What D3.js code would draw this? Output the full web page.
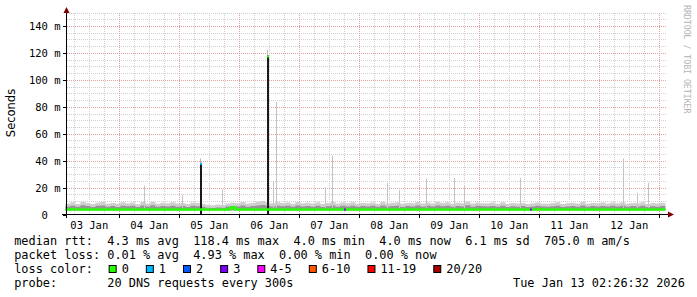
<!DOCTYPE html>
<html lang="en">
<head>
<meta charset="UTF-8">
<title>SmokePing DNS latency</title>
<style>
body { margin: 0; background: #fff; }
svg { display: block; }
text { font-family: "DejaVu Sans Mono", monospace; white-space: pre; }
</style>
</head>
<body>
<svg id="chart" width="697" height="297"></svg>
<script src="https://cdn.jsdelivr.net/npm/d3@7"></script>
<script>
// time window of the graph (10 days ending at the stamp in the footer)
const startTime = new Date(Date.UTC(2026, 0, 3, 2, 26, 32));
const endTime = new Date(Date.UTC(2026, 0, 13, 2, 26, 32));
const binHours = 2;

// smoke: upper edge of the light band, ms, one value per 2 hour bin
const smokeHi = [
    8.6, 9.4, 8.2, 9.8, 8.9, 8.1, 9.1, 9.6, 8.4, 9.0, 8.3, 9.5,
    8.8, 9.2, 8.0, 9.7, 8.6, 9.9, 8.3, 9.1, 8.7, 9.4, 8.5, 9.0,
    8.2, 9.3, 8.9, 8.4, 7.6, 7.2, 7.8, 7.4, 8.6, 9.1, 8.8, 9.6,
    8.5, 9.0, 9.8, 10.4, 9.2, 8.7, 9.5, 8.9, 9.3, 8.4, 9.7, 8.8,
    9.1, 8.6, 9.4, 8.2, 8.9, 9.6, 8.5, 9.2, 8.7, 9.5, 8.3, 9.0,
    8.8, 9.3, 8.4, 9.7, 8.6, 9.1, 9.5, 8.3, 9.0, 8.7, 9.6, 8.5,
    9.2, 8.6, 9.8, 8.9, 9.4, 8.3, 9.1, 8.7, 9.9, 8.5, 9.3, 8.8,
    8.7, 9.2, 8.4, 9.5, 8.1, 8.9, 8.5, 9.0, 8.2, 8.8, 9.3, 8.6,
    8.4, 8.9, 9.4, 8.2, 8.8, 9.1, 8.5, 9.6, 8.3, 9.0, 8.7, 9.2,
    8.6, 9.3, 8.8, 9.5, 8.4, 9.0, 8.7, 9.4, 8.2, 8.9, 8.5, 9.1
];
// smoke: upper edge of the darker band, ms
const smokeMid = [
    6.4, 6.9, 6.1, 7.2, 6.6, 5.9, 6.8, 7.0, 6.2, 6.7, 6.0, 6.9,
    6.5, 6.8, 5.9, 7.1, 6.3, 7.3, 6.1, 6.7, 6.4, 6.9, 6.2, 6.6,
    6.0, 6.8, 6.5, 6.1, 5.4, 5.2, 5.6, 5.3, 6.3, 6.7, 6.4, 7.0,
    6.2, 6.6, 7.1, 7.4, 6.8, 6.3, 6.9, 6.5, 6.8, 6.1, 7.0, 6.4,
    6.7, 6.2, 6.9, 6.0, 6.5, 7.0, 6.2, 6.8, 6.3, 6.9, 6.1, 6.6,
    6.4, 6.8, 6.1, 7.0, 6.3, 6.7, 6.9, 6.0, 6.6, 6.3, 7.0, 6.2,
    6.8, 6.3, 7.1, 6.5, 6.9, 6.1, 6.7, 6.4, 7.2, 6.2, 6.8, 6.5,
    6.3, 6.7, 6.1, 6.9, 5.9, 6.5, 6.2, 6.6, 6.0, 6.4, 6.8, 6.3,
    6.1, 6.5, 6.9, 6.0, 6.4, 6.7, 6.2, 7.0, 6.1, 6.6, 6.3, 6.7,
    6.3, 6.8, 6.4, 6.9, 6.1, 6.6, 6.3, 6.8, 6.0, 6.5, 6.2, 6.7
];
// median rtt, ms
const median = [
    4.1, 4.1, 4.0, 4.1, 4.1, 4.0, 4.1, 4.1, 4.0, 4.1, 4.1, 4.0,
    4.1, 4.1, 4.0, 4.1, 4.1, 4.1, 4.0, 4.1, 4.1, 4.0, 4.1, 4.1,
    4.1, 4.0, 4.1, 4.1, 4.0, 4.0, 4.0, 4.0, 4.1, 5.6, 4.1, 4.1,
    4.1, 4.1, 4.0, 4.1, 4.1, 4.1, 4.0, 4.1, 4.1, 4.0, 4.1, 4.1,
    4.1, 4.0, 4.1, 4.1, 4.1, 4.0, 4.1, 4.1, 4.1, 4.0, 4.1, 4.1,
    4.1, 4.1, 4.0, 4.1, 4.1, 4.0, 4.1, 4.1, 4.1, 4.1, 4.0, 4.1,
    4.1, 4.0, 4.1, 4.1, 4.1, 4.0, 4.1, 4.1, 4.1, 4.1, 4.0, 4.1,
    4.1, 4.1, 4.0, 4.1, 4.1, 4.1, 4.0, 4.1, 4.1, 4.0, 4.1, 4.1,
    4.1, 4.0, 4.1, 4.1, 4.1, 4.1, 4.0, 4.1, 4.1, 4.1, 4.0, 4.1,
    4.1, 4.1, 4.0, 4.1, 4.1, 4.0, 4.1, 4.1, 4.1, 4.0, 4.1, 4.1
];

// single slow pings sticking out of the smoke
const spikeTimes = ["2026-01-04T10:10:00Z", "2026-01-05T01:20:00Z", "2026-01-05T17:05:00Z",
    "2026-01-06T13:50:00Z", "2026-01-06T14:55:00Z", "2026-01-07T10:25:00Z", "2026-01-07T13:15:00Z",
    "2026-01-08T11:15:00Z", "2026-01-08T16:00:00Z", "2026-01-09T02:50:00Z", "2026-01-09T14:10:00Z",
    "2026-01-09T18:00:00Z", "2026-01-10T16:40:00Z", "2026-01-12T09:35:00Z", "2026-01-12T15:05:00Z",
    "2026-01-12T19:35:00Z"];
const spikeValues = [22, 15, 19, 25, 84, 20.5, 44, 24, 18.5, 27, 27.5, 22, 27.5, 42, 16.5, 24];

// the two slow periods where the median itself jumped
const burstTimes = ["2026-01-05T08:38:00Z", "2026-01-06T11:12:00Z"];
const burstMedian = [38.7, 118.4];
const burstPeak = [42, 122.5];
const burstLoss = [1, 0];

// small loss marks on the median line
const lossTimes = ["2026-01-07T18:00:00Z", "2026-01-10T20:30:00Z"];
const lossLevel = [3, 3];

const yTicks = [0, 20, 40, 60, 80, 100, 120, 140];
const yTickLabels = ["0", "20 m", "40 m", "60 m", "80 m", "100 m", "120 m", "140 m"];
const dayLabels = ["03 Jan", "04 Jan", "05 Jan", "06 Jan", "07 Jan", "08 Jan", "09 Jan", "10 Jan", "11 Jan", "12 Jan"];

const lossLabels = ["0", "1", "2", "3", "4-5", "6-10", "11-19", "20/20"];
const lossColors = ["#26ff00", "#00b8ff", "#0059ff", "#7e00ff", "#ff00ff", "#ff5500", "#ff0000", "#a10000"];

const statLines = [
    "median rtt:  4.3 ms avg  118.4 ms max  4.0 ms min  4.0 ms now  6.1 ms sd  705.0 m am/s",
    "packet loss: 0.01 % avg  4.93 % max  0.00 % min  0.00 % now"
];
const probeText = "probe:       20 DNS requests every 300s";
const stampText = "Tue Jan 13 02:26:32 2026";

// ---- layout ----
const svg = d3.select("#chart");
svg.append("rect").attr("width", 697).attr("height", 297).attr("fill", "#fff");

const x = d3.scaleUtc().domain([startTime, endTime]).range([65.4, 665.4]);
const y = d3.scaleLinear().domain([0, 150]).range([215, 13]);
const px = v => Math.floor(v) + 0.5;

const plotTop = 13, plotBottom = 214.5, plotLeft = 66.5, plotRight = 665.5;

// grid
const grid = svg.append("g").attr("stroke-width", 1).attr("stroke-dasharray", "1,1").attr("shape-rendering", "crispEdges");
d3.range(5, 151, 5).filter(v => v % 20 !== 0).forEach(v => {
    grid.append("line").attr("x1", plotLeft).attr("x2", plotRight)
        .attr("y1", px(y(v))).attr("y2", px(y(v))).attr("stroke", "#d0d0d0");
});
d3.utcHour.every(6).range(startTime, endTime).filter(d => d.getUTCHours() !== 0).forEach(d => {
    grid.append("line").attr("x1", px(x(d))).attr("x2", px(x(d)))
        .attr("y1", plotTop).attr("y2", plotBottom).attr("stroke", "#d0d0d0");
});
yTicks.filter(v => v > 0).forEach(v => {
    grid.append("line").attr("x1", plotLeft).attr("x2", plotRight)
        .attr("y1", px(y(v))).attr("y2", px(y(v))).attr("stroke", "#e4a0a0");
});
d3.utcDay.range(startTime, endTime).forEach(d => {
    grid.append("line").attr("x1", px(x(d))).attr("x2", px(x(d)))
        .attr("y1", plotTop).attr("y2", plotBottom).attr("stroke", "#e4a0a0");
});

// smoke
const bins = smokeHi.map((v, i) => ({
    t: d3.utcHour.offset(startTime, i * binHours),
    hi: v, mid: smokeMid[i], med: median[i]
}));
bins.push({ t: endTime, hi: bins[bins.length - 1].hi, mid: bins[bins.length - 1].mid, med: bins[bins.length - 1].med });

const smoke = svg.append("g");
smoke.append("path").datum(bins)
    .attr("fill", "#cfcfcf")
    .attr("d", d3.area().curve(d3.curveStepAfter).x(d => x(d.t)).y0(y(3.2)).y1(d => y(d.hi)));
smoke.append("path").datum(bins)
    .attr("fill", "#959595")
    .attr("d", d3.area().curve(d3.curveStepAfter).x(d => x(d.t)).y0(y(3.6)).y1(d => y(d.mid)));

// slow single pings
spikeTimes.forEach((t, i) => {
    const xx = Math.floor(x(new Date(t)));
    smoke.append("rect").attr("x", xx).attr("width", 1)
        .attr("y", y(spikeValues[i])).attr("height", y(5) - y(spikeValues[i]))
        .attr("fill", "#c4c4c4");
});

// bursts: smoke above, dense black column, loss coloured top
burstTimes.forEach((t, i) => {
    const xx = Math.floor(x(new Date(t)));
    smoke.append("rect").attr("x", xx).attr("width", 1)
        .attr("y", y(burstPeak[i])).attr("height", y(burstMedian[i]) - y(burstPeak[i]))
        .attr("fill", "#b8b8b8");
    smoke.append("rect").attr("x", xx).attr("width", 2)
        .attr("y", y(burstMedian[i])).attr("height", plotBottom - y(burstMedian[i]))
        .attr("fill", "#1a1a1a");
    smoke.append("rect").attr("x", xx).attr("width", 2)
        .attr("y", y(burstMedian[i])).attr("height", 2)
        .attr("fill", lossColors[burstLoss[i]]);
});

// median line
svg.append("path").datum(bins)
    .attr("fill", "none").attr("stroke", lossColors[0]).attr("stroke-width", 2.4)
    .attr("d", d3.line().curve(d3.curveStepAfter).x(d => x(d.t)).y(d => y(d.med)));

lossTimes.forEach((t, i) => {
    svg.append("rect").attr("x", Math.floor(x(new Date(t)))).attr("width", 2)
        .attr("y", y(4.1) - 1).attr("height", 2).attr("fill", lossColors[lossLevel[i]]);
});

// axes
const axes = svg.append("g").attr("shape-rendering", "crispEdges").attr("stroke", "#000");
axes.append("line").attr("x1", 62).attr("x2", 669).attr("y1", plotBottom).attr("y2", plotBottom);
axes.append("line").attr("x1", plotLeft).attr("x2", plotLeft).attr("y1", 218).attr("y2", 13);
yTicks.forEach(v => {
    axes.append("line").attr("x1", 63).attr("x2", plotLeft).attr("y1", px(y(v))).attr("y2", px(y(v)));
});
d3.utcDay.range(startTime, endTime).forEach(d => {
    axes.append("line").attr("x1", px(x(d))).attr("x2", px(x(d))).attr("y1", plotBottom).attr("y2", 217.5);
});
svg.append("path").attr("fill", "#7f0000").attr("d", "M668,211.5L674,214.5L668,217.5Z");
svg.append("path").attr("fill", "#7f0000").attr("d", "M63.5,13L69.5,13L66.5,7Z");

// axis labels
const axisFont = 10.5, axisCw = axisFont * 0.602;
yTicks.forEach((v, i) => {
    const label = yTickLabels[i];
    const endX = v === 0 ? 60.5 - 2 * axisCw : 60.5;
    svg.append("text").attr("x", endX).attr("y", px(y(v)) + 3.6)
        .attr("text-anchor", "end").attr("font-size", axisFont).attr("fill", "#000")
        .text(label);
});
dayLabels.forEach((lab, i) => {
    const noon = new Date(Date.UTC(2026, 0, 3 + i, 12));
    svg.append("text").attr("x", x(noon)).attr("y", 228.5)
        .attr("text-anchor", "middle").attr("font-size", axisFont).attr("fill", "#000")
        .text(lab);
});

svg.append("text")
    .attr("transform", "translate(15,113) rotate(-90)")
    .attr("text-anchor", "middle")
    .style("font-family", "'DejaVu Sans', sans-serif")
    .attr("font-size", 11.5).attr("fill", "#000")
    .text("Seconds");

svg.append("text")
    .attr("transform", "translate(684,5) rotate(90)")
    .attr("font-size", 8.2).attr("fill", "#b4b4b4")
    .text("RRDTOOL / TOBI OETIKER");

// legend
const legFont = 11.9, legCw = legFont * 0.602, legX = 14.2;
const lineY = [245.2, 259.1, 273, 286.9];
statLines.forEach((s, i) => {
    svg.append("text").attr("x", legX).attr("y", lineY[i]).attr("font-size", legFont).attr("fill", "#000").text(s);
});
svg.append("text").attr("x", legX).attr("y", lineY[2]).attr("font-size", legFont).attr("fill", "#000").text("loss color:");
let tx = legX + 15 * legCw;
lossLabels.forEach((lab, i) => {
    svg.append("rect").attr("x", tx - 12.5).attr("y", 265.5).attr("width", 7).attr("height", 7)
        .attr("fill", lossColors[i]).attr("stroke", "#000").attr("stroke-width", 1);
    svg.append("text").attr("x", tx).attr("y", lineY[2]).attr("font-size", legFont).attr("fill", "#000").text(lab);
    tx += lab.length * legCw + 30;
});
svg.append("text").attr("x", legX).attr("y", lineY[3]).attr("font-size", legFont).attr("fill", "#000").text(probeText);
svg.append("text").attr("x", 513).attr("y", lineY[3]).attr("font-size", legFont).attr("fill", "#000").text(stampText);
</script>
</body>
</html>
